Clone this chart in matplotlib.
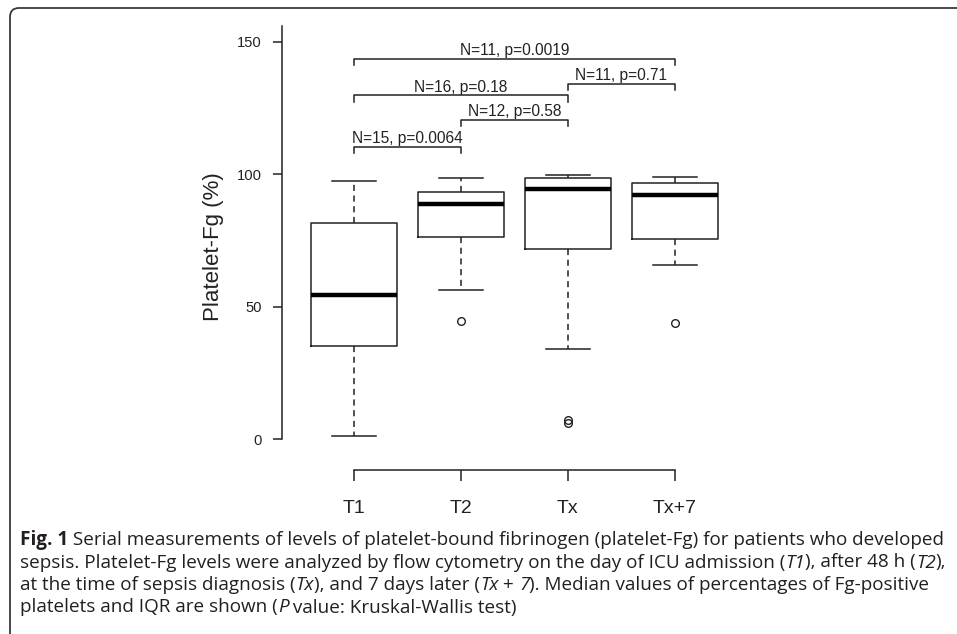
import matplotlib
matplotlib.use('Agg')
import matplotlib.pyplot as plt
from matplotlib.patches import FancyBboxPatch

# boxplot summaries
groups = ['T1', 'T2', 'Tx', 'Tx+7']
whisker_low = [1.2, 56.2, 34.2, 65.9]
quart1 = [35.2, 76.2, 71.7, 75.7]
medians = [54.3, 88.8, 94.6, 92.3]
quart3 = [81.6, 93.2, 98.6, 96.7]
whisker_high = [97.4, 98.6, 99.9, 99.1]
outliers = [[], [44.5], [6.0, 7.2], [44.0]]

# pairwise comparisons (group numbers, bracket height, label)
pair_from = [1, 2, 1, 3, 1]
pair_to = [2, 3, 3, 4, 4]
pair_height = [110.3, 120.5, 129.8, 134.3, 143.6]
pair_text = ['N=15, p=0.0064', 'N=12, p=0.58', 'N=16, p=0.18',
             'N=11, p=0.71', 'N=11, p=0.0019']

yticks = [0, 50, 100, 150]

caption = [
    [('Fig. 1', 'b'), (' Serial measurements of levels of platelet-bound fibrinogen '
                       '(platelet-Fg) for patients who developed', 'r')],
    [('sepsis. Platelet-Fg levels were analyzed by flow cytometry on the day of '
      'ICU admission (', 'r'), ('T1', 'i'), ('), after 48 h (', 'r'), ('T2', 'i'), ('),', 'r')],
    [('at the time of sepsis diagnosis (', 'r'), ('Tx', 'i'), ('), and 7 days later (', 'r'),
     ('Tx', 'i'), (' + ', 'r'), ('7', 'i'),
     ('). Median values of percentages of Fg-positive', 'r')],
    [('platelets and IQR are shown (', 'r'), ('P', 'i'), (' value: Kruskal-Wallis test)', 'r')],
]

W, H = 957, 634
ink = '#222222'
chart_font = ['Liberation Sans', 'DejaVu Sans']
plt.rcParams['font.family'] = chart_font

fig = plt.figure(figsize=(W / 100, H / 100), dpi=100)
ax = fig.add_axes([282 / W, 1 - 481.4 / H, (739 - 282) / W, (481.4 - 15.5) / H])

stats = []
for i in range(len(groups)):
    stats.append(dict(whislo=whisker_low[i], q1=quart1[i], med=medians[i],
                      q3=quart3[i], whishi=whisker_high[i], fliers=outliers[i]))

ax.bxp(stats, positions=[1, 2, 3, 4], widths=0.8, capwidths=0.41, manage_ticks=False,
       boxprops=dict(color=ink, lw=1.1),
       whiskerprops=dict(color=ink, lw=1.1, ls=(0, (4, 3))),
       capprops=dict(color=ink, lw=1.1),
       medianprops=dict(color='black', lw=3.2, solid_capstyle='butt'),
       flierprops=dict(marker='o', mfc='none', mec=ink, ms=5.5, mew=1.0))

for a, b, h, t in zip(pair_from, pair_to, pair_height, pair_text):
    ax.plot([a, a, b, b], [h - 2.3, h, h, h - 2.3], color=ink, lw=1.1)
    ax.text((a + b) / 2, h + 1.4, t, ha='center', va='baseline', fontsize=11.2, color=ink)

ax.set_xlim(0.327, 4.6)
ax.set_ylim(-16, 160)
for s in ['top', 'right']:
    ax.spines[s].set_visible(False)
ax.spines['left'].set_bounds(0, 156)
ax.spines['bottom'].set_position(('data', -11.7))
ax.spines['bottom'].set_bounds(1, 4)
for s in ['left', 'bottom']:
    ax.spines[s].set_linewidth(1.1)
    ax.spines[s].set_color(ink)
ax.set_xticks([1, 2, 3, 4], groups)
ax.set_yticks(yticks)
ax.tick_params(axis='x', length=7.9, width=1.1, pad=14, labelsize=14, color=ink, labelcolor=ink)
ax.tick_params(axis='y', length=6.7, width=1.1, pad=7.7, labelsize=10.6, color=ink, labelcolor=ink)

fig.text(213 / W, 1 - 247 / H, 'Platelet-Fg (%)', rotation=90, ha='center', va='center',
         fontsize=16, color=ink)

# rounded frame around the figure
fig.add_artist(FancyBboxPatch((10, -40), 1000, H - 8 + 40,
                              boxstyle='round,pad=0,rounding_size=9', transform=None,
                              fill=False, ec='#3a3a3a', lw=1.3))

# caption with mixed bold / italic pieces
cap_size = 13.6
cap_color = '#231f20'
cap_font = ['Open Sans', 'DejaVu Sans']
renderer = fig.canvas.get_renderer()


def style_kw(style):
    return dict(fontsize=cap_size, family=cap_font, color=cap_color,
                fontweight='bold' if style == 'b' else 'normal',
                fontstyle='italic' if style == 'i' else 'normal')


def measure(s, style):
    t1 = fig.text(0, 0, '|' + s + '|', **style_kw(style))
    t2 = fig.text(0, 0, '||', **style_kw(style))
    w = t1.get_window_extent(renderer).width - t2.get_window_extent(renderer).width
    t1.remove()
    t2.remove()
    return w


y = 545
for parts in caption:
    x = 20
    for s, style in parts:
        fig.text(x / W, 1 - y / H, s, ha='left', va='baseline', **style_kw(style))
        x += measure(s, style)
    y += 22.5

fig.savefig('out.png', dpi=100)
